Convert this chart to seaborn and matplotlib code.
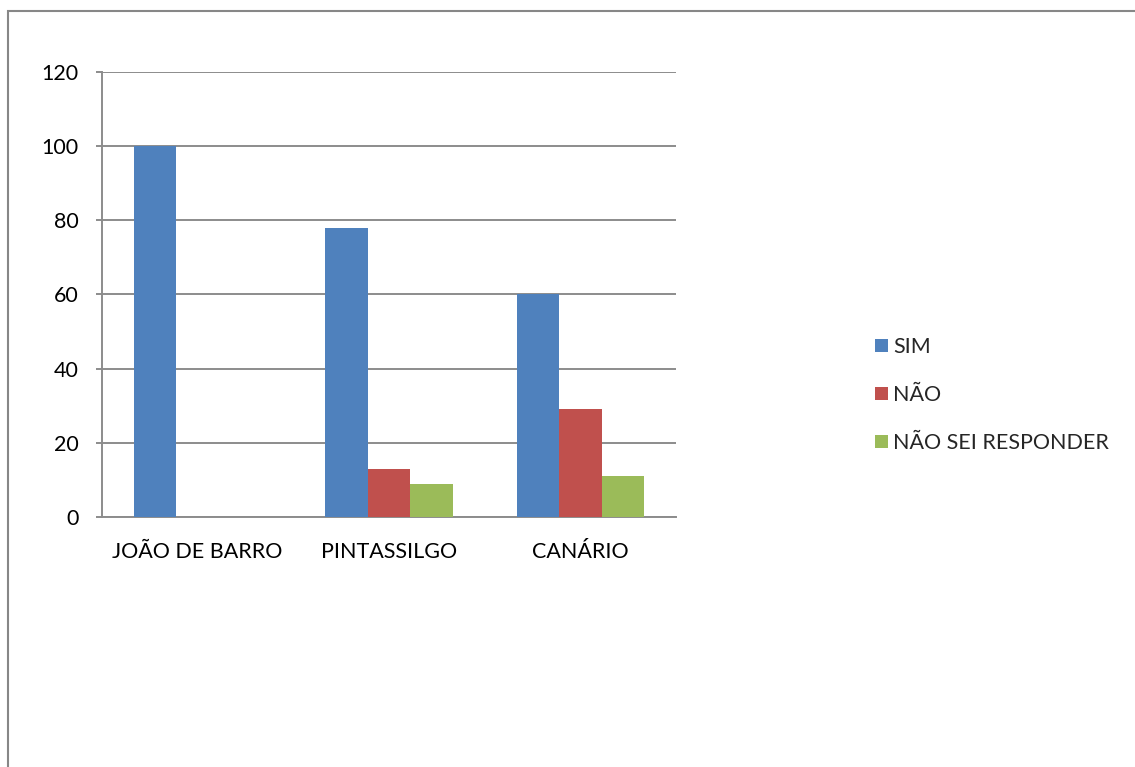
import matplotlib
matplotlib.use("Agg")
import matplotlib.pyplot as plt
from matplotlib.patches import Rectangle
from matplotlib.ticker import FixedLocator
import seaborn as sns
import pandas as pd

categories = ["JOÃO DE BARRO", "PINTASSILGO", "CANÁRIO"]
series_names = ["SIM", "NÃO", "NÃO SEI RESPONDER"]
sim = [100, 78, 60]
nao = [0, 13, 29]
nao_sei = [0, 9, 11]
y_ticks = [0, 20, 40, 60, 80, 100, 120]

colors = ["#4F81BD", "#C0504D", "#9BBB59"]
grid_gray = "#8C8C8C"
fs = 15.5

rows = []
for name, vals in zip(series_names, [sim, nao, nao_sei]):
    for cat, v in zip(categories, vals):
        rows.append({"categoria": cat, "resposta": name, "valor": v})
df = pd.DataFrame(rows)

sns.set_theme(style="white")
plt.rcParams["font.family"] = ["Lato", "DejaVu Sans"]

fig = plt.figure(figsize=(11.35, 7.67), dpi=100)
ax = fig.add_axes([102 / 1135, 1 - 517 / 767, 574 / 1135, 445 / 767])

sns.barplot(data=df, x="categoria", y="valor", hue="resposta",
            hue_order=series_names, order=categories, palette=colors,
            width=0.667, saturation=1, linewidth=0, ax=ax, legend=True, zorder=3)

ax.set_xlim(-0.5, 2.5)
ax.set_ylim(0, 120)
ax.set_yticks(y_ticks)
ax.set_ylabel("")
ax.set_xlabel("")

ax.grid(axis="y", color=grid_gray, linewidth=1.4, zorder=0)
ax.set_axisbelow(True)
for s in ["top", "right"]:
    ax.spines[s].set_visible(False)
for s in ["left", "bottom"]:
    ax.spines[s].set_color(grid_gray)
    ax.spines[s].set_linewidth(1.4)

ax.xaxis.set_minor_locator(FixedLocator([-0.5, 0.5, 1.5, 2.5]))
ax.tick_params(axis="x", which="major", length=0, pad=18, labelsize=fs, colors="black")
ax.tick_params(axis="x", which="minor", length=5, width=1.4, color=grid_gray, direction="out")
ax.tick_params(axis="y", length=4.5, width=1.4, color=grid_gray, direction="out",
               pad=12.5, labelsize=fs, labelcolor="black", left=True)

handles, labels = ax.get_legend_handles_labels()
ax.get_legend().remove()
fig.legend(handles, labels, loc="center left", bbox_to_anchor=(866 / 1135, 1 - 395 / 767),
           frameon=False, fontsize=fs, handlelength=0.6, handleheight=0.6,
           handletextpad=0.25, labelspacing=1.3, borderaxespad=0)

fig.patches.append(Rectangle((8 / 1135, -0.05), 1.2, 1 - 11 / 767 + 0.05,
                             transform=fig.transFigure, fill=False,
                             edgecolor="#878787", linewidth=1.5))

fig.savefig("out.png", dpi=100, facecolor="white")
